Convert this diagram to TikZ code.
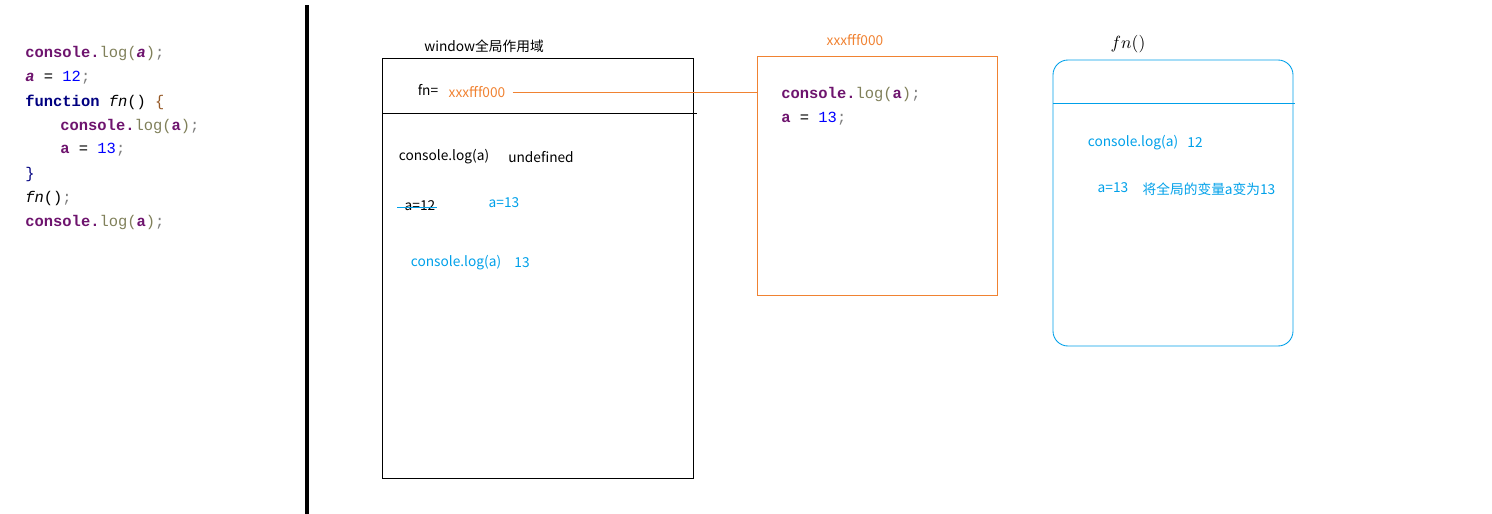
\documentclass[tikz,border=0pt]{standalone}
\usepackage{fontspec}
\setmainfont{Noto Sans CJK SC}
\newfontfamily\codefont{Liberation Mono}
\definecolor{heaporange}{RGB}{240,130,50}
\definecolor{scopeblue}{RGB}{0,160,233}
\definecolor{kwpurple}{RGB}{110,20,110}
\definecolor{fnolive}{RGB}{128,128,90}
\definecolor{numblue}{RGB}{0,0,255}
\definecolor{kwnavy}{RGB}{0,0,128}
\definecolor{bracebrown}{RGB}{150,90,40}
\newcommand{\jsvar}[1]{{\color{kwpurple}\bfseries #1}}
\newcommand{\jslog}[1]{\jsvar{console.}{\color{fnolive}log(}\jsvar{#1}{\color{fnolive})}{\color{gray};}}
\newcommand{\jsset}[2]{\jsvar{#1} = {\color{numblue}#2}{\color{gray};}}
\begin{document}
\begin{tikzpicture}[x=0.02cm,y=-0.02cm]
    \tikzstyle{every node}+=[inner sep=0pt, font=\fontsize{7.8}{9}\selectfont]
    \tikzstyle{code}=[font=\codefont\fontsize{8.8}{10}\selectfont, anchor=west]
    \useasboundingbox (0,0) rectangle (1492,514);
    % source code
    \node[code] (l1) at (25,54) {\jslog{\itshape a}};
    \node[code] (l2) at (25,78) {\jsset{\itshape a}{12}};
    \node[code] (l3) at (25,102) {{\color{kwnavy}\bfseries function} \textit{fn}() {\color{bracebrown}\{}};
    \node[code] (l4) at (60,126) {\jslog{a}};
    \node[code] (l5) at (60,150) {\jsset{a}{13}};
    \node[code] (l6) at (25,174) {{\color{kwnavy}\}}};
    \node[code] (l7) at (25,198) {\textit{fn}(){\color{gray};}};
    \node[code] (l8) at (25,222) {\jslog{a}};
    \draw [black, line width=2.3pt] (307,5) -- (307,514);
    % window scope
    \draw [black, line width=0.5pt] (382,58) rectangle (693,478);
    \draw [black, line width=0.5pt] (382,113) -- (697,113);
    \node (wintitle) at (484,46) {window全局作用域};
    \node (fneq) at (428,90) {fn=};
    \node[text=heaporange] (addr) at (477,92) {xxxfff000};
    \node (glog1) at (444,157) {console.log(a)};
    \node (gundef) at (541,157) {undefined};
    \node (ga12) at (420,206) {a=12};
    \draw [scopeblue, line width=0.5pt] ([xshift=-4pt,yshift=1.8pt]ga12.base west) -- ([xshift=1pt,yshift=1.8pt]ga12.base east);
    \node[text=scopeblue] (ga13) at (504,203) {a=13};
    \node[text=scopeblue] (glog2) at (456,263) {console.log(a)};
    \node[text=scopeblue] (g13) at (522,263) {13};
    % heap
    \draw [heaporange, line width=0.5pt] (757,56) rectangle (997,295);
    \coordinate (heapw) at (757,92);
    \node[text=heaporange] (heaptitle) at (855,40) {xxxfff000};
    \node[code] (h1) at (781,95) {\jslog{a}};
    \node[code] (h2) at (781,119) {\jsset{a}{13}};
    \draw [heaporange, line width=0.5pt] ([xshift=4pt]addr.east) -- (heapw);
    % fn scope
    \draw [scopeblue, line width=0.5pt, rounded corners=8.5pt] (1053,60) rectangle (1293,346);
    \draw [scopeblue, line width=0.5pt] (1053,103) -- (1295,103);
    \node (fntitle) at (1128,44) {\fontsize{10}{12}\selectfont$fn()$};
    \node[text=scopeblue] (flog) at (1133,143) {console.log(a)};
    \node[text=scopeblue] (f12) at (1195,143) {12};
    \node[text=scopeblue] (fa13) at (1113,188) {a=13};
    \node[text=scopeblue] (fnote) at (1209,189) {将全局的变量a变为13};
\end{tikzpicture}
\end{document}
